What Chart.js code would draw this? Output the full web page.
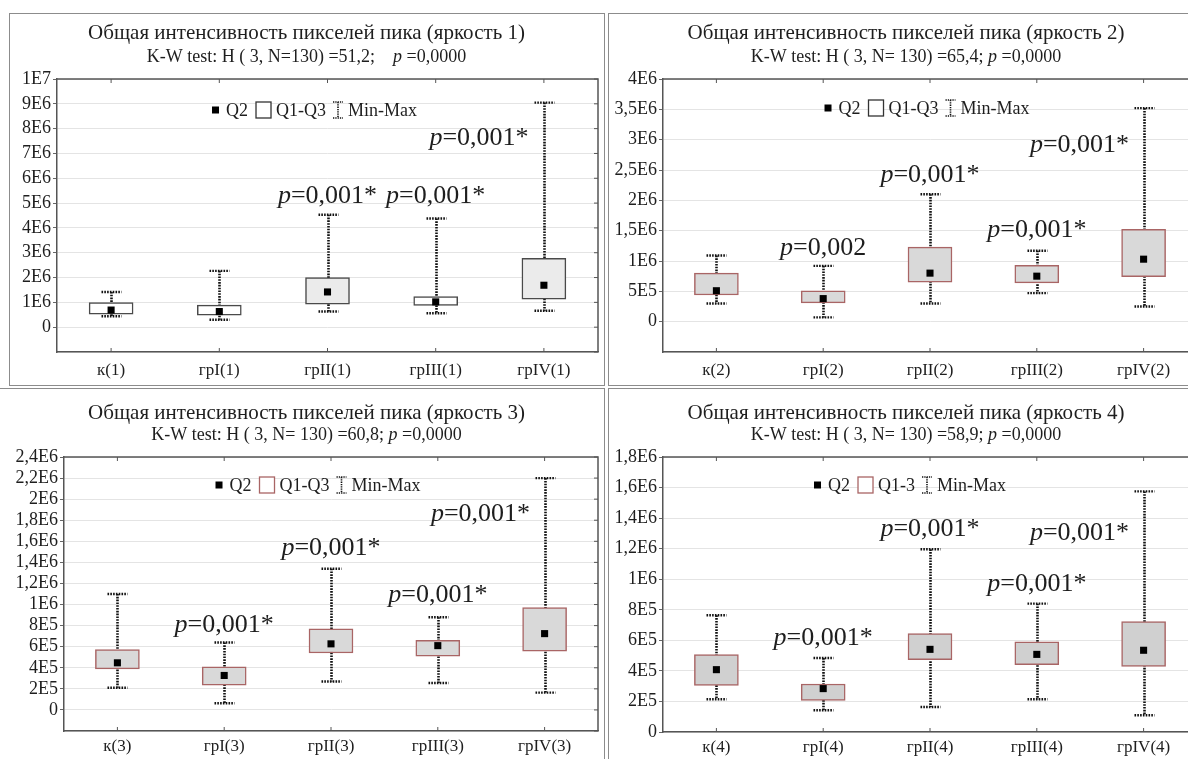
<!DOCTYPE html>
<html>
<head>
<meta charset="utf-8">
<script src="https://cdn.jsdelivr.net/npm/chart.js@4.4.1/dist/chart.umd.min.js"></script>
<style>
    html, body { margin: 0; padding: 0; background: #fff; width: 1188px; height: 759px; overflow: hidden; position: relative; }
    .frame { position: absolute; border: 1px solid #8c8c8c; box-sizing: border-box; }
    canvas { position: absolute; }
</style>
</head>
<body>
<div class="frame" style="left:9px;top:13px;width:596px;height:373px"></div>
<div class="frame" style="left:608px;top:13px;width:600px;height:373px"></div>
<div class="frame" style="left:-2px;top:388px;width:607px;height:380px"></div>
<div class="frame" style="left:608px;top:388px;width:600px;height:380px"></div>

<canvas id="c1" width="593" height="370" style="left:10px;top:14px"></canvas>
<canvas id="c2" width="594" height="370" style="left:609px;top:14px"></canvas>
<canvas id="c3" width="599" height="370" style="left:5px;top:389px"></canvas>
<canvas id="c4" width="594" height="370" style="left:609px;top:389px"></canvas>

<script>
// ---- panel 1 (яркость 1)
const cats1 = ['к(1)', 'грI(1)', 'грII(1)', 'грIII(1)', 'грIV(1)'];
const min1 = [0.44e6, 0.30e6, 0.63e6, 0.56e6, 0.66e6];
const q1_1 = [0.52e6, 0.48e6, 0.93e6, 0.88e6, 1.13e6];
const med1 = [0.69e6, 0.63e6, 1.42e6, 1.02e6, 1.69e6];
const q3_1 = [0.99e6, 0.89e6, 2.00e6, 1.23e6, 2.77e6];
const max1 = [1.42e6, 2.27e6, 4.53e6, 4.38e6, 9.05e6];
const ticks1 = ['0', '1E6', '2E6', '3E6', '4E6', '5E6', '6E6', '7E6', '8E6', '9E6', '1E7'];
const notes1 = ['', '', 'p=0,001*', 'p=0,001*', 'p=0,001*'];

// ---- panel 2 (яркость 2)
const cats2 = ['к(2)', 'грI(2)', 'грII(2)', 'грIII(2)', 'грIV(2)'];
const min2 = [0.30e6, 0.07e6, 0.30e6, 0.47e6, 0.25e6];
const q1_2 = [0.44e6, 0.31e6, 0.65e6, 0.64e6, 0.74e6];
const med2 = [0.51e6, 0.38e6, 0.80e6, 0.75e6, 1.03e6];
const q3_2 = [0.80e6, 0.51e6, 1.23e6, 0.93e6, 1.52e6];
const max2 = [1.09e6, 0.92e6, 2.10e6, 1.17e6, 3.52e6];
const ticks2 = ['0', '5E5', '1E6', '1,5E6', '2E6', '2,5E6', '3E6', '3,5E6', '4E6'];
const notes2 = ['', 'p=0,002', 'p=0,001*', 'p=0,001*', 'p=0,001*'];

// ---- panel 3 (яркость 3)
const cats3 = ['к(3)', 'грI(3)', 'грII(3)', 'грIII(3)', 'грIV(3)'];
const min3 = [0.21e6, 0.063e6, 0.27e6, 0.255e6, 0.164e6];
const q1_3 = [0.39e6, 0.236e6, 0.54e6, 0.51e6, 0.557e6];
const med3 = [0.447e6, 0.327e6, 0.627e6, 0.61e6, 0.724e6];
const q3_3 = [0.573e6, 0.41e6, 0.77e6, 0.66e6, 0.97e6];
const max3 = [1.10e6, 0.64e6, 1.34e6, 0.88e6, 2.20e6];
const ticks3 = ['0', '2E5', '4E5', '6E5', '8E5', '1E6', '1,2E6', '1,4E6', '1,6E6', '1,8E6', '2E6', '2,2E6', '2,4E6'];
const notes3 = ['', 'p=0,001*', 'p=0,001*', 'p=0,001*', 'p=0,001*'];

// ---- panel 4 (яркость 4)
const cats4 = ['к(4)', 'грI(4)', 'грII(4)', 'грIII(4)', 'грIV(4)'];
const min4 = [0.214e6, 0.142e6, 0.164e6, 0.214e6, 0.11e6];
const q1_4 = [0.305e6, 0.207e6, 0.473e6, 0.44e6, 0.43e6];
const med4 = [0.408e6, 0.284e6, 0.541e6, 0.508e6, 0.535e6];
const q3_4 = [0.506e6, 0.314e6, 0.644e6, 0.591e6, 0.722e6];
const max4 = [0.764e6, 0.484e6, 1.196e6, 0.84e6, 1.575e6];
const ticks4 = ['0', '2E5', '4E5', '6E5', '8E5', '1E6', '1,2E6', '1,4E6', '1,6E6', '1,8E6'];
const notes4 = ['', 'p=0,001*', 'p=0,001*', 'p=0,001*', 'p=0,001*'];

const SERIF = '"Liberation Serif", "Times New Roman", serif';
const INK = '#1e1e1e';
const AXIS = '#555';

// split a string so that a lone "p" is set in italics
function drawRich(ctx, str, cx, y, size) {
    const parts = str.split(/(\bp\b)/).filter(s => s.length);
    const fontOf = it => (it ? 'italic ' : '') + size + 'px ' + SERIF;
    let w = 0;
    parts.forEach(t => { ctx.font = fontOf(t === 'p'); w += ctx.measureText(t).width; });
    let x = cx - w / 2;
    ctx.textAlign = 'left';
    parts.forEach(t => {
        ctx.font = fontOf(t === 'p');
        ctx.fillText(t, x, y);
        x += ctx.measureText(t).width;
    });
}

function makePanel(id, p) {
    const whiskers = {
        id: 'whiskers',
        beforeDatasetsDraw(chart) {
            const { ctx, scales: { x, y } } = chart;
            ctx.save();
            ctx.strokeStyle = '#111';
            ctx.setLineDash([1.6, 1.2]);
            p.cats.forEach((c, i) => {
                const cx = Math.round(x.getPixelForValue(i)) + 0.5;
                const yMin = y.getPixelForValue(p.min[i]);
                const yMax = y.getPixelForValue(p.max[i]);
                ctx.lineWidth = 2.6;
                ctx.beginPath();
                ctx.moveTo(cx, yMax);
                ctx.lineTo(cx, yMin);
                ctx.stroke();
                ctx.lineWidth = 2.4;
                [yMin, yMax].forEach(yy => {
                    ctx.beginPath();
                    ctx.moveTo(cx - 10, yy);
                    ctx.lineTo(cx + 10, yy);
                    ctx.stroke();
                });
            });
            ctx.restore();
        }
    };

    const decor = {
        id: 'decor',
        afterDraw(chart) {
            const { ctx, chartArea: a, scales: { x, y } } = chart;
            ctx.save();
            // top and right frame of the plot
            ctx.strokeStyle = AXIS;
            ctx.lineWidth = 1.5;
            ctx.beginPath();
            ctx.moveTo(a.left, a.top);
            ctx.lineTo(a.right, a.top);
            ctx.lineTo(a.right, a.bottom);
            ctx.stroke();
            ctx.lineWidth = 1;
            p.cats.forEach((c, i) => {
                const cx = x.getPixelForValue(i);
                ctx.beginPath();
                ctx.moveTo(cx, a.top); ctx.lineTo(cx, a.top + 4);
                ctx.moveTo(cx, a.bottom); ctx.lineTo(cx, a.bottom - 4);
                ctx.stroke();
            });
            y.ticks.forEach(t => {
                const yy = y.getPixelForValue(t.value);
                ctx.beginPath();
                ctx.moveTo(a.right, yy); ctx.lineTo(a.right - 4, yy);
                ctx.stroke();
            });

            // titles
            ctx.fillStyle = INK;
            ctx.textBaseline = 'middle';
            ctx.font = '21px ' + SERIF;
            ctx.textAlign = 'center';
            ctx.fillText(p.title, chart.width / 2 + p.titleDx, p.titleY);
            drawRich(ctx, p.subtitle, chart.width / 2 + p.titleDx, p.subY, 18);

            // legend inside the plot
            const ly = a.top + p.legendY;
            ctx.font = '18px ' + SERIF;
            const lw = p.legend.map(t => ctx.measureText(t).width);
            const total = 7 + 7 + lw[0] + 8 + 15 + 5 + lw[1] + 7 + 10 + 5 + lw[2];
            let lx = (a.left + a.right) / 2 + p.legendDx - total / 2;
            ctx.fillStyle = '#000';
            ctx.fillRect(lx, ly - 3.5, 7, 7);
            lx += 14;
            ctx.fillStyle = INK;
            ctx.textAlign = 'left';
            ctx.fillText(p.legend[0], lx, ly + 1);
            lx += lw[0] + 8;
            ctx.fillStyle = '#fff';
            ctx.fillRect(lx, ly - 8, 15, 16);
            ctx.strokeStyle = p.legendEdge;
            ctx.lineWidth = 1.3;
            ctx.strokeRect(lx, ly - 8, 15, 16);
            lx += 20;
            ctx.fillStyle = INK;
            ctx.fillText(p.legend[1], lx, ly + 1);
            lx += lw[1] + 7;
            ctx.strokeStyle = '#111';
            ctx.setLineDash([1.3, 1]);
            ctx.lineWidth = 1.6;
            ctx.beginPath();
            ctx.moveTo(lx + 5, ly - 8); ctx.lineTo(lx + 5, ly + 8);
            ctx.moveTo(lx, ly - 8); ctx.lineTo(lx + 10, ly - 8);
            ctx.moveTo(lx, ly + 8); ctx.lineTo(lx + 10, ly + 8);
            ctx.stroke();
            ctx.setLineDash([]);
            lx += 15;
            ctx.fillText(p.legend[2], lx, ly + 1);

            // significance notes
            ctx.textBaseline = 'alphabetic';
            ctx.fillStyle = INK;
            p.notes.forEach((t, i) => {
                if (!t) return;
                const step = x.getPixelForValue(1) - x.getPixelForValue(0);
                const nx = x.getPixelForValue(i) + p.noteShift[i] * step;
                drawRich(ctx, t, nx, y.getPixelForValue(p.noteY[i]), 26);
            });
            ctx.restore();
        }
    };

    return new Chart(document.getElementById(id), {
        type: 'bar',
        data: {
            labels: p.cats,
            datasets: [
                {
                    label: 'Q1-Q3',
                    data: p.q1.map((v, i) => [v, p.q3[i]]),
                    backgroundColor: p.fill,
                    borderColor: p.edge,
                    borderWidth: 1.5,
                    borderSkipped: false,
                    barThickness: 44,
                    order: 2
                },
                {
                    type: 'line',
                    label: 'Q2',
                    data: p.med,
                    showLine: false,
                    pointStyle: 'rect',
                    pointRadius: 5,
                    pointBackgroundColor: '#000',
                    pointBorderWidth: 0,
                    order: 1
                }
            ]
        },
        options: {
            responsive: false,
            animation: false,
            layout: { padding: { top: p.padTop, right: p.padR, left: 0, bottom: 0 } },
            plugins: { legend: { display: false }, tooltip: { enabled: false } },
            scales: {
                x: {
                    grid: { display: false, drawTicks: false },
                    border: { display: true, color: AXIS, width: 1.5 },
                    ticks: { color: INK, font: { family: SERIF, size: 17 }, padding: p.xPad, maxRotation: 0 },
                    afterFit(s) { s.height = p.xH; }
                },
                y: {
                    min: p.yMin,
                    max: p.yMax,
                    grid: {
                        color: '#e4e4e4',
                        lineWidth: 1,
                        tickLength: 4,
                        tickColor: c => (c.tick && c.tick.value < 0) ? 'rgba(0,0,0,0)' : '#666'
                    },
                    border: { display: true, color: AXIS, width: 1.5 },
                    ticks: {
                        stepSize: p.step,
                        autoSkip: false,
                        padding: 2,
                        color: INK,
                        font: { family: SERIF, size: 18 },
                        callback: v => v < 0 ? '' : p.tickLabels[Math.round(v / p.step)]
                    },
                    afterFit(s) { s.width = p.yW; }
                }
            }
        },
        plugins: [whiskers, decor]
    });
}

const grayBox = '#d9d9d9';
const redEdge = '#a96565';

makePanel('c1', {
    cats: cats1, min: min1, q1: q1_1, med: med1, q3: q3_1, max: max1,
    tickLabels: ticks1, yMin: -1e6, yMax: 1e7, step: 1e6,
    fill: ['#ffffff', '#ffffff', '#ebebeb', '#ffffff', '#ebebeb'], edge: '#4a4a4a',
    title: 'Общая интенсивность пикселей пика (яркость 1)',
    subtitle: 'K-W test: H ( 3, N=130) =51,2;    p =0,0000',
    legend: ['Q2', 'Q1-Q3', 'Min-Max'], legendEdge: '#333',
    notes: notes1, noteY: [0, 0, 5.0e6, 5.0e6, 7.35e6], noteShift: [0, 0, 0, 0, -0.6],
    padTop: 65, padR: 4, yW: 47, xH: 32, xPad: 8, titleY: 19, subY: 43, titleDx: 0, legendY: 31, legendDx: -13
});

makePanel('c2', {
    cats: cats2, min: min2, q1: q1_2, med: med2, q3: q3_2, max: max2,
    tickLabels: ticks2, yMin: -0.5e6, yMax: 4e6, step: 0.5e6,
    fill: grayBox, edge: redEdge,
    title: 'Общая интенсивность пикселей пика (яркость 2)',
    subtitle: 'K-W test: H ( 3, N= 130) =65,4; p =0,0000',
    legend: ['Q2', 'Q1-Q3', 'Min-Max'], legendEdge: '#333',
    notes: notes2, noteY: [0, 1.10e6, 2.30e6, 1.40e6, 2.80e6], noteShift: [0, 0, 0, 0, -0.6],
    padTop: 65, padR: 6, yW: 54, xH: 32, xPad: 8, titleY: 19, subY: 43, titleDx: 0, legendY: 29, legendDx: -3
});

makePanel('c3', {
    cats: cats3, min: min3, q1: q1_3, med: med3, q3: q3_3, max: max3,
    tickLabels: ticks3, yMin: -0.2e6, yMax: 2.4e6, step: 0.2e6,
    fill: grayBox, edge: redEdge,
    title: 'Общая интенсивность пикселей пика (яркость 3)',
    subtitle: 'K-W test: H ( 3, N= 130) =60,8; p =0,0000',
    legend: ['Q2', 'Q1-Q3', 'Min-Max'], legendEdge: redEdge,
    notes: notes3, noteY: [0, 0.74e6, 1.47e6, 1.02e6, 1.79e6], noteShift: [0, 0, 0, 0, -0.6],
    padTop: 68, padR: 6, yW: 59, xH: 28, xPad: 5, titleY: 24, subY: 46, titleDx: 2, legendY: 28, legendDx: -13
});

makePanel('c4', {
    cats: cats4, min: min4, q1: q1_4, med: med4, q3: q3_4, max: max4,
    tickLabels: ticks4, yMin: 0, yMax: 1.8e6, step: 0.2e6,
    fill: '#d0d0d0', edge: redEdge,
    title: 'Общая интенсивность пикселей пика (яркость 4)',
    subtitle: 'K-W test: H ( 3, N= 130) =58,9; p =0,0000',
    legend: ['Q2', 'Q1-3', 'Min-Max'], legendEdge: redEdge,
    notes: notes4, noteY: [0, 0.57e6, 1.28e6, 0.92e6, 1.26e6], noteShift: [0, 0, 0, 0, -0.6],
    padTop: 68, padR: 6, yW: 54, xH: 27, xPad: 5, titleY: 24, subY: 46, titleDx: 0, legendY: 28, legendDx: -20
});
</script>
</body>
</html>
